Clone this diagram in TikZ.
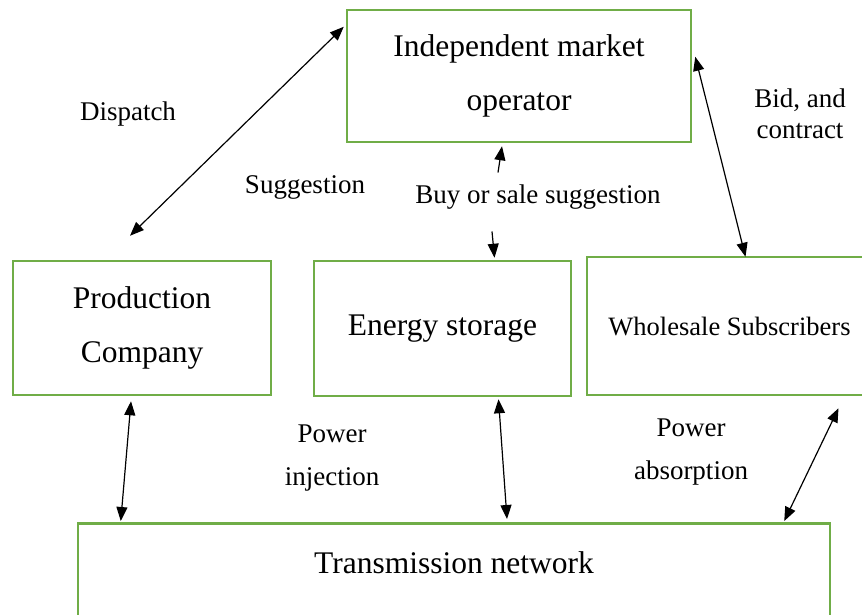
\documentclass[tikz,border=0pt]{standalone}
\usepackage{fontspec}
\setmainfont{Liberation Serif}
\usetikzlibrary{positioning,arrows.meta,calc}
\definecolor{boxc}{RGB}{112,173,71}
\tikzset{
  box/.style={draw=boxc, line width=2.5pt, align=center, inner sep=0pt, font=\fontsize{31.5}{54}\selectfont},
  note/.style={align=center, inner sep=1pt, font=\fontsize{27}{31}\selectfont},
  link/.style={{Triangle[length=14pt,width=11pt]}-{Triangle[length=14pt,width=11pt]}, line width=1.2pt},
  half/.style={-{Triangle[length=14pt,width=11pt]}, line width=1.2pt}
}

\begin{document}
\begin{tikzpicture}[x=1pt, y=-1pt]
  \useasboundingbox (0,0) rectangle (862,614);

  % boxes
  \node[box, minimum width=344, minimum height=132] (imo) at (519,76) {Independent market\\operator};
  \node[box, minimum width=258, minimum height=134] (prod) at (142,328) {Production\\Company};
  \node[box, minimum width=257, minimum height=135] (stor) at (442.5,328.5) {Energy storage};
  \node[box, minimum width=285, minimum height=138, font=\fontsize{26.5}{30}\selectfont] (whole) at (729.5,326) {Wholesale Subscribers};
  \node[box, anchor=north, minimum width=752, inner ysep=30pt, text height=20pt, text depth=80pt] (trans) at (454,522) {Transmission network};

  % labels
  \node[note] (disp) at (128,114) {Dispatch};
  \node[note] (sugg) at (305,187) {Suggestion};
  \node[note] (sell) at (538,197) {Buy or sale suggestion};
  \node[note] (bid) at (800,114) {Bid, and\\contract};
  \node[note, font=\fontsize{27}{43}\selectfont] (inj) at (332,458) {Power\\injection};
  \node[note, font=\fontsize{27}{43}\selectfont] (absb) at (691,452) {Power\\absorption};

  % arrows
  \draw[link] ([shift={(-12,-24)}]prod.north) -- ([shift={(-2,18)}]imo.north west);
  \draw[link] ([shift={(3,48)}]imo.north east) -- ([shift={(16,1)}]whole.north);
  \draw[half] ([shift={(-40,-11)}]sell.north) -- ([shift={(-17,3)}]imo.south);
  \draw[half] ([shift={(-46,21)}]sell.south) -- ([shift={(52,-2)}]stor.north);
  \draw[link] ([shift={(-11,5)}]prod.south) -- ([shift={(44,-1)}]trans.north west);
  \draw[link] ([shift={(56,2)}]stor.south) -- ([shift={(53,-3)}]trans.north);
  \draw[link] ([shift={(109,12)}]whole.south) -- ([shift={(-47,-1)}]trans.north east);
\end{tikzpicture}
\end{document}
